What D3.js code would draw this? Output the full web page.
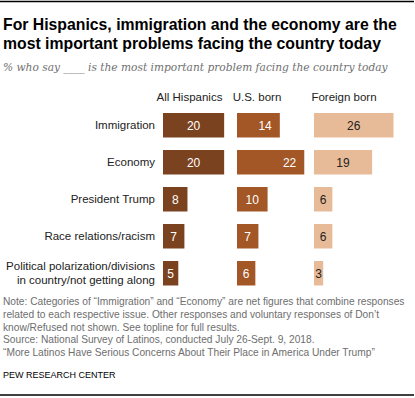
<!DOCTYPE html>
<html>
<head>
<meta charset="utf-8">
<title>Hispanics most important problem</title>
<script src="https://cdn.jsdelivr.net/npm/d3@7"></script>
<style>
  body { margin: 0; background: #fff; }
  svg { display: block; font-family: "Liberation Sans", Arial, sans-serif; }
</style>
</head>
<body>
<div id="chart"></div>
<script>
// data
var categories = ["Immigration", "Economy", "President Trump", "Race relations/racism",
                  "Political polarization/divisions|in country/not getting along"];
var groups = ["All Hispanics", "U.S. born", "Foreign born"];
var allHispanics = [20, 20, 8, 7, 5];
var usBorn = [14, 22, 10, 7, 6];
var foreignBorn = [26, 19, 6, 6, 3];
var noteLines = [
  "Note: Categories of \u201cImmigration\u201d and \u201cEconomy\u201d are net figures that combine responses",
  "related to each respective issue. Other responses and voluntary responses of Don\u2019t",
  "know/Refused not shown. See topline for full results.",
  "Source: National Survey of Latinos, conducted July 26-Sept. 9, 2018.",
  "\u201cMore Latinos Have Serious Concerns About Their Place in America Under Trump\u201d"
];

var series = [allHispanics, usBorn, foreignBorn];
var colors = ["#7b4220", "#a35626", "#e8bb98"];
var labelColors = ["#fff", "#fff", "#222"];

var W = 415, H = 398;
var svg = d3.select("#chart").append("svg").attr("width", W).attr("height", H);

// shrink font so the text is no wider than max
function fit(sel, max){
  sel.each(function(){
    var fs = +d3.select(this).attr("font-size");
    var len = this.getComputedTextLength();
    if (len > max) d3.select(this).attr("font-size", (fs * max / len).toFixed(2));
  });
}

// rules
svg.append("line").attr("x1", 0).attr("x2", 414).attr("y1", 1.5).attr("y2", 1.5)
  .attr("stroke", "#000").attr("stroke-width", 1.5);
svg.append("line").attr("x1", 0).attr("x2", 414).attr("y1", 395).attr("y2", 395)
  .attr("stroke", "#000").attr("stroke-width", 1.5);

// title
var title = ["For Hispanics, immigration and the economy are the",
             "most important problems facing the country today"];
var t = svg.selectAll(".title").data(title).enter().append("text")
  .attr("x", 3).attr("y", function(d, i){ return 30 + i * 19; })
  .attr("font-size", 17).attr("font-weight", "bold").attr("fill", "#000")
  .text(function(d){ return d; });
fit(t, 394);
// keep both lines the same size
var tfs = d3.min(t.nodes(), function(n){ return +n.getAttribute("font-size"); });
t.attr("font-size", tfs);

var sub = svg.append("text").attr("x", 3).attr("y", 71)
  .attr("font-family", "'DejaVu Serif', Georgia, serif").attr("font-style", "italic")
  .attr("font-size", 12.5).attr("fill", "#707070")
  .text("% who say ____ is the most important problem facing the country today");
fit(sub, 385);

// scales
var y = d3.scaleBand().domain(categories).range([106.75, 291.75])
  .paddingInner(0.338).paddingOuter(0.169);
var x = d3.scaleLinear().domain([0, 26]).range([0, 79.5]);
var colStart = [163, 237, 314];
var headerX = [189.5, 257, 344];

// column headers
svg.selectAll(".hdr").data(groups).enter().append("text")
  .attr("x", function(d, i){ return headerX[i]; }).attr("y", 101)
  .attr("text-anchor", "middle").attr("font-size", 11.5).attr("fill", "#222")
  .text(function(d){ return d; });

// category labels
var cat = svg.selectAll(".cat").data(categories).enter().append("text")
  .attr("text-anchor", "end").attr("font-size", 11.5).attr("fill", "#222")
  .attr("y", function(d){ return y(d) + y.bandwidth() / 2; });
cat.each(function(d){
  var lines = d.split("|"), c = d3.select(this);
  lines.forEach(function(l, j){
    c.append("tspan").attr("x", 155)
      .attr("dy", j == 0 ? (lines.length == 1 ? "0.35em" : "-0.25em") : "1.2em")
      .text(l);
  });
});

// bars
series.forEach(function(vals, s){
  var g = svg.append("g").attr("transform", "translate(" + colStart[s] + ",0)");
  g.selectAll("rect").data(vals).enter().append("rect")
    .attr("x", 0).attr("y", function(d, i){ return y(categories[i]); })
    .attr("width", function(d){ return x(d); }).attr("height", y.bandwidth())
    .attr("fill", colors[s]);
  g.selectAll("text").data(vals).enter().append("text")
    .attr("x", function(d){ return (s == 1 && d >= 14) ? x(d) - 8 : x(d) / 2; })
    .attr("text-anchor", function(d){ return (s == 1 && d >= 14) ? "end" : "middle"; })
    .attr("y", function(d, i){ return y(categories[i]) + y.bandwidth() / 2; })
    .attr("dy", "0.36em").attr("font-size", 12).attr("fill", labelColors[s])
    .text(function(d){ return d; });
});

// notes
var notes = svg.selectAll(".note").data(noteLines).enter().append("text")
  .attr("x", 3).attr("y", function(d, i){ return 305 + i * 12.8; })
  .attr("font-size", 10.2).attr("fill", "#6e6e6e")
  .text(function(d){ return d; });
fit(notes, 402);
var nfs = d3.min(notes.nodes(), function(n){ return +n.getAttribute("font-size"); });
notes.attr("font-size", nfs);

svg.append("text").attr("x", 3).attr("y", 378)
  .attr("font-size", 9).attr("fill", "#000").text("PEW RESEARCH CENTER");
</script>
</body>
</html>
